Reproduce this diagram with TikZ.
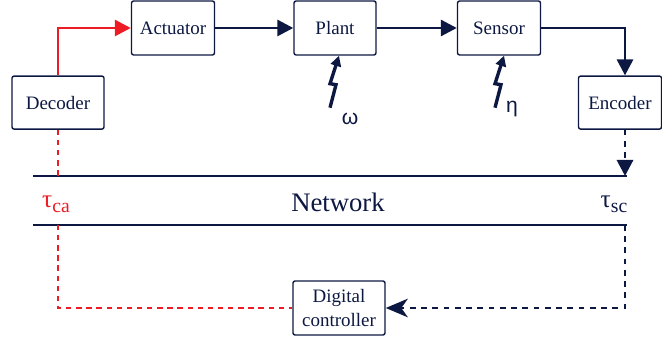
\documentclass[tikz,border=0pt]{standalone}
\usepackage{fontspec}
\setmainfont{Liberation Serif}
\setsansfont{Liberation Sans}
\usetikzlibrary{arrows.meta}
\definecolor{navy}{RGB}{12,24,66}
\definecolor{netred}{RGB}{237,28,36}
\newcommand{\delaysub}[1]{\raisebox{-3.5pt}{\fontsize{14}{16}\selectfont #1}}
\begin{document}
\begin{tikzpicture}[node distance=4.05cm, >={Triangle[length=4mm,width=4mm]},
        block/.style={draw=navy, rectangle, line width=1pt, rounded corners=1.5pt,
            minimum height=1.35cm, text=navy, align=center,
            font=\fontsize{13.5}{16.5}\selectfont},
        link/.style={navy, line width=2.1pt},
        noise/.style={navy, line width=2.4pt, >={Triangle[length=2.6mm,width=2.6mm]}},
        netline/.style={navy, line width=1.5pt},
        redlink/.style={netred, line width=2pt},
        redpkt/.style={netred, line width=1.8pt, dash pattern=on 3.8pt off 3.4pt},
        navypkt/.style={navy, line width=2.1pt, dash pattern=on 4pt off 4pt},
        sym/.style={text=navy, font=\sffamily\fontsize{15}{18}\selectfont}]
        \useasboundingbox (0,0) rectangle (16.55,8.525);
        % Nodes
        \node[block, minimum width=2.075cm] (actuator) at (4.325,7.825) {Actuator};
        \node[block, minimum width=2.05cm, right of=actuator] (plant) {Plant};
        \node[block, minimum width=2.075cm, right of=plant, node distance=4.1cm] (sensor) {Sensor};
        \node[block, minimum width=2.3cm, minimum height=1.325cm] (decoder) at (1.45,5.96) {Decoder};
        \node[block, minimum width=2.075cm, minimum height=1.325cm] (encoder) at (15.5,5.96) {Encoder};
        \node[block, minimum width=2.3cm] (ctrl) at (8.475,0.825) {Digital\\controller};
        % Network
        \coordinate (netA) at (0.825,4.125);
        \coordinate (netB) at (15.675,4.125);
        \coordinate (netC) at (0.825,2.9);
        \coordinate (netD) at (15.675,2.9);
        \draw[netline] (netA) -- (netB);
        \draw[netline] (netC) -- (netD);
        \node[text=navy, font=\fontsize{19}{22}\selectfont] (network) at (8.45,3.475) {Network};
        \node[text=netred, font=\fontsize{18}{22}\selectfont] (tauca) at (1.4,3.42) {τ\delaysub{ca}};
        \node[text=navy, font=\fontsize{18}{22}\selectfont] (tausc) at (15.35,3.42) {τ\delaysub{sc}};
        % Disturbances
        \draw[noise,->] ([shift={(-0.125,-1.3)}]plant.south) -- ++(0.15,0.575) -- ++(-0.15,0.025) -- ([xshift=1mm]plant.south);
        \draw[noise,->] ([shift={(-0.1,-1.3)}]sensor.south) -- ++(0.15,0.575) -- ++(-0.15,0.025) -- ([xshift=1.25mm]sensor.south);
        \node[sym] (omega) at (8.75,5.55) {ω};
        \node[sym] (eta) at (12.8,5.8) {η};
        % Arrows
        \draw[redlink,->] (decoder.north) |- (actuator.west);
        \draw[link,->] (actuator) -- (plant);
        \draw[link,->] (plant) -- (sensor);
        \draw[link,->] (sensor) -| ([xshift=1.25mm]encoder.north);
        \draw[navypkt,->] ([xshift=1.25mm]encoder.south) -- ([xshift=1.25mm]encoder.south |- netB);
        \draw[redpkt] (decoder.south) -- (decoder.south |- netA);
        % Controller loop
        \draw[navypkt,-{Stealth[length=5.5mm,width=4.6mm,inset=1.6mm]}] ([xshift=1.25mm]encoder.south |- netD) |- (ctrl.east);
        \draw[redpkt] (decoder.south |- netC) |- (ctrl.west);
    \end{tikzpicture}
\end{document}
